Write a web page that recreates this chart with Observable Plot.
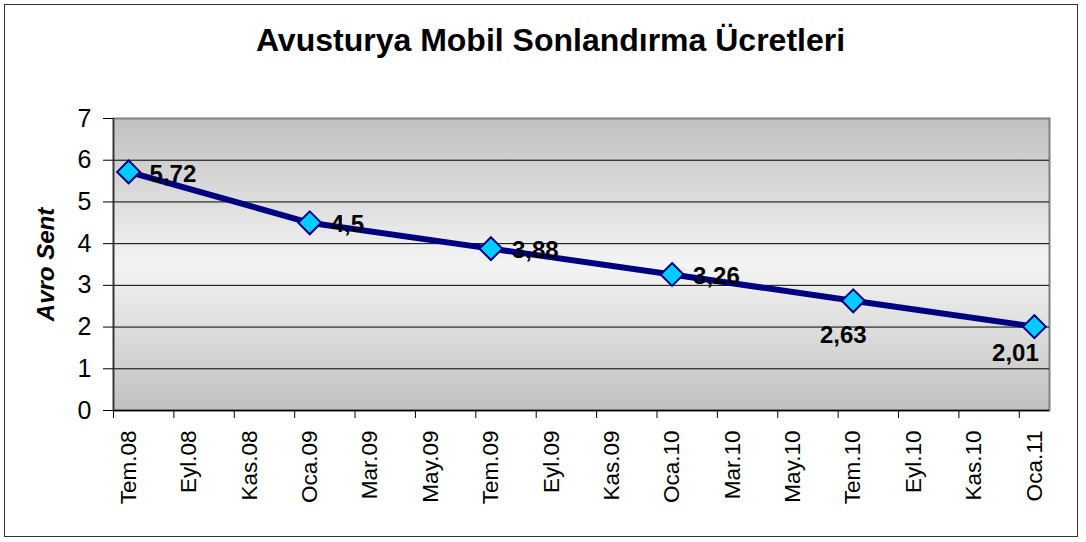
<!DOCTYPE html>
<html>
<head>
<meta charset="utf-8">
<script src="https://cdn.jsdelivr.net/npm/d3@7"></script>
<script src="https://cdn.jsdelivr.net/npm/@observablehq/plot@0.6"></script>
<style>
  html, body { margin: 0; padding: 0; background: #fff; }
  #wrap { position: relative; width: 1086px; height: 542px; }
  #border { position: absolute; left: 4px; top: 4px; width: 1074px; height: 533px;
            border: 1.5px solid #333; box-sizing: border-box; pointer-events: none; }
  svg { font-family: "Liberation Sans", Arial, sans-serif; }
</style>
</head>
<body>
<div id="wrap"><div id="border"></div></div>
<script>
// Month tick labels (every two months, Jul 2008 .. Jan 2011)
const tickLabels = ["Tem.08","Eyl.08","Kas.08","Oca.09","Mar.09","May.09","Tem.09","Eyl.09",
                    "Kas.09","Oca.10","Mar.10","May.10","Tem.10","Eyl.10","Kas.10","Oca.11"];
// Data points
const pointMonths = ["Tem.08","Oca.09","Tem.09","Oca.10","Tem.10","Oca.11"];
const pointValues = [5.72, 4.5, 3.88, 3.26, 2.63, 2.01];
const valueLabels = ["5,72","4,5","3,88","3,26","2,63","2,01"];
const yTicks = [0,1,2,3,4,5,6,7];
const gridValues = [1,2,3,4,5,6];

const monthPos = m => tickLabels.indexOf(m) * 2 + 0.5; // month slot centre
const data = pointMonths.map((m, i) => ({x: monthPos(m), y: pointValues[i], label: valueLabels[i], i}));
const tickPositions = tickLabels.map((d, i) => i * 2);

const labelFont = {fontSize: 24, fontWeight: "bold", fill: "black"};

const chart = Plot.plot({
  width: 1086,
  height: 542,
  marginLeft: 113,
  marginRight: 37,
  marginTop: 118,
  marginBottom: 132,
  x: {type: "linear", domain: [0, 31], axis: null},
  y: {type: "linear", domain: [0, 7], axis: null},
  marks: [
    Plot.frame({fill: "url(#plotbg)", stroke: "#808080", strokeWidth: 2}),
    Plot.ruleY(gridValues, {stroke: "black", strokeWidth: 1}),
    Plot.ruleY([0], {stroke: "black", strokeWidth: 1.5}),
    Plot.ruleX([0], {stroke: "#333", strokeWidth: 1.5}),
    Plot.axisY(yTicks, {tickSize: 10, text: null, label: null, stroke: "black"}),
    Plot.text(yTicks, {x: 0, y: d => d, dx: -22, textAnchor: "end", fontSize: 25, fill: "black"}),
    Plot.axisX(tickPositions, {tickSize: 8, text: null, label: null, stroke: "black"}),
    Plot.text(tickLabels, {x: (d, i) => i * 2 + 0.5, y: 0, dy: 20, rotate: -90,
      textAnchor: "end", lineAnchor: "middle", fontSize: 22.5, fill: "black"}),
    Plot.line(data, {x: "x", y: "y", stroke: "#000080", strokeWidth: 6}),
    Plot.dot(data, {x: "x", y: "y", symbol: "diamond2", r: 10.3, fill: "#00ccff",
      stroke: "#000080", strokeWidth: 2}),
    Plot.text(data.filter(d => d.i < 4), {x: "x", y: "y", text: "label", dx: 21, dy: 2,
      textAnchor: "start", ...labelFont}),
    Plot.text(data.filter(d => d.i === 4), {x: "x", y: "y", text: "label", dx: -10, dy: 35,
      textAnchor: "middle", ...labelFont}),
    Plot.text(data.filter(d => d.i === 5), {x: "x", y: "y", text: "label", dx: -19, dy: 27,
      textAnchor: "middle", ...labelFont}),
    Plot.text(["Avro Sent"], {frameAnchor: "left", dx: -67, rotate: -90, textAnchor: "middle",
      fontSize: 24, fontWeight: "bold", fontStyle: "italic", fill: "black"}),
    Plot.text(["Avusturya Mobil Sonlandırma Ücretleri"], {frameAnchor: "top", dx: -31, dy: -78,
      lineAnchor: "middle", fontSize: 32, fontWeight: "bold", fill: "black"})
  ]
});

const svg = d3.select(chart);
const defs = svg.insert("defs", ":first-child");
const grad = defs.append("linearGradient").attr("id", "plotbg")
  .attr("x1", 0).attr("y1", 0).attr("x2", 0).attr("y2", 1);
grad.append("stop").attr("offset", "0%").attr("stop-color", "#c0c0c0");
grad.append("stop").attr("offset", "50%").attr("stop-color", "#f4f4f4");
grad.append("stop").attr("offset", "100%").attr("stop-color", "#c0c0c0");

document.getElementById("wrap").prepend(chart);
</script>
</body>
</html>
